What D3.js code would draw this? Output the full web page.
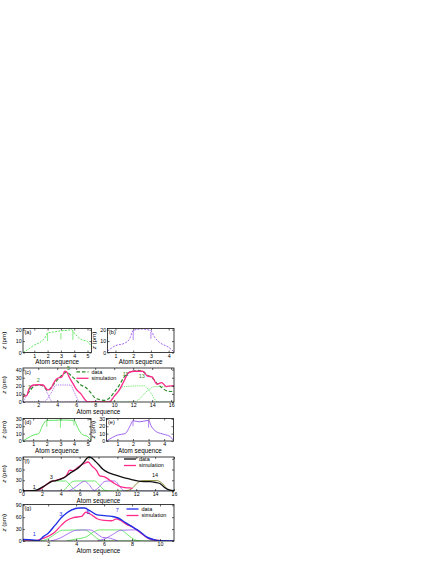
<!DOCTYPE html>
<html>
<head>
<meta charset="utf-8">
<script src="https://cdn.jsdelivr.net/npm/d3@7"></script>
<style>
  body { margin: 0; background: #fff; }
  text { font-family: "Liberation Sans", Arial, sans-serif; }
</style>
</head>
<body>
<script>
// ---- data ----
const aLine = [[0.15,0],[0.5,2.5],[1,6.5],[1.5,9.5],[1.8,13],[2,17],[2.5,18],[3,19],[3.5,19.4],[3.8,20],[4,17],[4.3,13.4],[4.5,11.6],[5,9.5],[5.3,5]];
const aMarks = [[2,10,17],[3,11.5,17],[3.9,11,19.4]];
const bLine = [[0.55,1.3],[1,6],[1.5,8],[1.8,12],[2,19.4],[2.5,20.6],[3,19],[3.2,13.5],[3.5,8.7],[4,4.5],[4.3,0.6]];
const bMarks = [[2,11,19],[3,12,18]];

const cData = [[0.4,6],[1,12],[1.5,19],[2,21],[2.5,20],[3,14],[3.5,20],[4,27],[4.5,33],[5,37],[5.5,32],[6,27],[6.5,21],[7,18],[7.5,12],[8,5],[8.5,3],[9,2],[9.5,5],[10,12],[10.5,20],[11,30],[11.5,36],[12,38],[12.5,39],[13,38],[13.5,33],[14,30],[14.5,23],[15,18],[15.5,14],[16,13],[16.3,13]];
const cSim = [[0.4,7],[0.8,8],[1,15],[1.5,21],[2,21.5],[2.5,21],[3,15],[3.3,16],[3.7,25],[4,29],[4.5,31],[4.8,38],[5,37],[5.3,30],[5.7,22],[6,16],[6.5,10],[7,2],[7.2,0],[9.5,0],[10,7],[10.5,14],[11,25],[11.5,36],[12,38],[12.5,38],[13,38],[13.5,32],[14,31],[14.5,22],[15,24],[15.5,19],[16,20],[16.3,20]];
const cPurple = [
  [[0.4,0],[0.9,10],[1.3,20],[2.5,21],[3.0,10],[3.5,0],[9,0]],
  [[0.4,0],[2.6,0],[3.3,10],[3.9,21],[5.4,21],[5.8,12],[6.4,0],[9,0]]
];
const cGreen = [
  [[8,0],[9.3,0],[10.2,10],[11,19],[13.2,20],[13.8,12],[14.6,0],[16.3,0]],
  [[8,0],[12.2,0],[13,8],[13.6,15],[14.3,19],[15.2,19],[16.3,19]]
];
const cLabels = [[1.1,16,"1"],[2,25,"2"],[5.2,39,"5"],[11.2,32,"11"],[12.9,30,"13"]];

const dLine = [[0.25,0],[0.6,4],[1,8],[1.4,10],[1.7,21.5],[2,28],[2.5,28],[3,28.5],[3.5,28.3],[4,28],[4.3,17],[4.6,9],[5,6],[5.25,1.3]];
const dMarks = [[2,19,28],[3,18,28.5],[4,21,28]];
const eLine = [[0.3,0],[0.7,5],[1,8],[1.5,10],[1.8,20],[2,27.5],[2.4,26],[3,28],[3.15,21],[3.5,12.6],[4,9],[4.4,5.8],[4.6,1]];
const eMarks = [[2,20,27.5],[3,18,28]];

const fData = [[0,0],[1,1],[1.5,3],[2,10],[2.5,18],[3,26],[3.5,29],[4,33],[4.5,40],[5,50],[5.5,58],[6,68],[6.5,82],[6.8,92],[7,95],[7.3,92],[7.7,82],[8,74],[8.5,60],[9,52],[9.5,47],[10,43],[10.5,39],[11,35],[11.5,32],[12,29],[12.5,27],[13,26],[13.5,26],[14,24],[14.5,21],[15,10],[15.5,3],[16,1]];
const fSim = [[0,0],[1,0.5],[1.5,2],[2,8],[2.5,18],[3,27],[3.5,30],[4,34],[4.6,43],[4.95,58],[5.3,57],[6,70],[6.5,77],[6.9,81],[7.3,70],[7.8,57],[8.1,43],[8.7,39],[9.2,30],[9.7,21],[10.3,12],[11,9],[11.3,9],[11.6,7]];
const fGreen = [
  [[0,0],[1,1],[1.8,5],[2.5,18],[3,28],[4.5,28],[5,16],[5.5,3],[6,0],[16,0]],
  [[0,0],[4.2,0],[4.7,12],[5.2,26],[5.6,28],[7.6,28],[8.1,16],[8.6,3],[9,0]]
];
const fPurple = [
  [[4.8,0],[5.4,8],[6,20],[6.5,27],[7,18],[7.4,4],[7.8,0]],
  [[0,0],[7.4,0],[8.1,12],[8.6,26],[9,28],[9.7,28],[10.2,15],[10.6,2],[11,0],[16,0]]
];
const fOlive = [[10.8,0],[11.5,6],[12.2,24],[12.7,29],[14.2,29],[14.8,20],[15.3,5],[15.8,0],[16,0]];
const fLabels = [[1.2,6,"1"],[3,33,"3"],[7,86,"7"],[14,40,"14"]];

const gData = [[0.2,4],[0.9,2.5],[1.3,0.8],[1.65,11],[2,19.5],[2.5,40],[2.95,59],[3.3,70],[3.65,78],[4.25,83],[4.6,83],[5,76],[5.5,66],[6,64],[6.55,62],[7,58],[7.5,47],[8,36],[8.55,24],[9,11],[9.5,4],[10,0.5],[11,0]];
const gSim = [[0.2,0],[1,0],[1.65,7],[2.4,20],[2.95,40],[3.3,51],[3.8,59],[4.4,62],[4.7,73],[5.1,66],[5.5,56],[6,52],[6.55,51],[6.9,56],[7.1,53],[7.6,42],[8.1,34],[8.55,22],[9.1,8],[9.6,2.5],[10.2,0]];
const gGreen = [
  [[0.2,0],[1.3,0],[2,6],[2.6,20],[3,27],[4.6,28],[5.1,18],[5.6,4],[6,0],[11,0]],
  [[3.3,0],[4,5],[4.7,10],[5.3,24],[5.7,28],[7.2,28],[7.7,15],[8.2,3],[8.6,0]]
];
const gPurple = [
  [[2.2,0],[2.9,8],[3.5,20],[4,27],[5,28],[5.5,18],[5.9,9],[6.3,8],[6.6,5],[7,0]],
  [[5.5,0],[6.2,8],[6.6,16],[7.2,27],[8.3,28],[8.7,20],[9.2,5],[9.6,0],[11,0]]
];
const gLabels = [[1,13,"1"],[2.9,64,"3"],[4.85,68,"5"],[6.95,73,"7"]];

// colours
const LG = "#5fe65f", DG = "#2e8b2e", PU = "#a066f0", PK = "#ff2a8a", BL = "#1f2fe6", OL = "#8a8a3a";

const svg = d3.select("body").append("svg").attr("width", 436).attr("height", 564);
let clipN = 0;
const fmt = d3.format("d");

function panel(box, xd, yd, xt, yt, tag, ylx) {
  const x = d3.scaleLinear(xd, [box[0], box[1]]);
  const y = d3.scaleLinear(yd, [box[3], box[2]]);
  const g = svg.append("g");
  const id = "clip" + (clipN++);
  g.append("clipPath").attr("id", id).append("rect")
    .attr("x", box[0]).attr("y", box[2]).attr("width", box[1]-box[0]).attr("height", box[3]-box[2]);
  const plot = g.append("g").attr("clip-path", `url(#${id})`);

  const style = s => s.call(a => a.select(".domain").remove())
    .attr("font-size", 5.3).attr("font-family", "Liberation Sans, Arial, sans-serif")
    .call(a => a.selectAll("line").attr("stroke-width", 0.6));
  g.append("g").attr("transform", `translate(0,${box[3]})`)
    .call(d3.axisBottom(x).tickValues(xt).tickFormat(fmt).tickSize(-2).tickPadding(1.3)).call(style);
  g.append("g").attr("transform", `translate(0,${box[2]})`)
    .call(d3.axisTop(x).tickValues(xt).tickSize(-2).tickFormat("")).call(style);
  g.append("g").attr("transform", `translate(${box[0]},0)`)
    .call(d3.axisLeft(y).tickValues(yt).tickFormat(fmt).tickSize(-2).tickPadding(1.3)).call(style);
  g.append("g").attr("transform", `translate(${box[1]},0)`)
    .call(d3.axisRight(y).tickValues(yt).tickSize(-2).tickFormat("")).call(style);

  g.append("rect").attr("x", box[0]).attr("y", box[2]).attr("width", box[1]-box[0]).attr("height", box[3]-box[2])
    .attr("fill", "none").attr("stroke", "#111").attr("stroke-width", 0.8);

  g.append("text").attr("x", box[0]+1.5).attr("y", box[2]+5.5).attr("font-size", 5.5).text(tag);
  g.append("text").attr("x", (box[0]+box[1])/2).attr("y", box[3]+11.5)
    .attr("text-anchor", "middle").attr("font-size", 6.3).text("Atom sequence");
  const yl = g.append("text").attr("transform", `translate(${box[0]-ylx},${(box[2]+box[3])/2}) rotate(-90)`)
    .attr("text-anchor", "middle").attr("font-size", 6.2);
  yl.append("tspan").attr("font-style", "italic").text("z");
  yl.append("tspan").text(" (pm)");
  return {g, plot, x, y};
}

function draw(p, data, color, width, dash) {
  const line = d3.line().x(d => p.x(d[0])).y(d => p.y(d[1])).curve(d3.curveMonotoneX);
  p.plot.append("path").datum(data).attr("fill", "none").attr("stroke", color)
    .attr("stroke-width", width).attr("stroke-dasharray", dash || null).attr("d", line);
}
function marks(p, data, color) {
  p.plot.selectAll(null).data(data).join("line")
    .attr("x1", d => p.x(d[0])).attr("x2", d => p.x(d[0]))
    .attr("y1", d => p.y(d[1])).attr("y2", d => p.y(d[2]))
    .attr("stroke", color).attr("stroke-width", 0.8);
}
function labels(p, data, color) {
  p.g.selectAll(null).data(data).join("text")
    .attr("x", d => p.x(d[0])).attr("y", d => p.y(d[1]))
    .attr("text-anchor", "middle").attr("font-size", 5.5).attr("fill", color).text(d => d[2]);
}
function legend(p, x0, y0, items) {
  items.forEach((it, i) => {
    const yy = y0 + i*6.5;
    p.g.append("line").attr("x1", x0).attr("x2", x0+12).attr("y1", yy).attr("y2", yy)
      .attr("stroke", it[1]).attr("stroke-width", 1.3).attr("stroke-dasharray", it[2] || null);
    p.g.append("text").attr("x", x0+15).attr("y", yy+1.8).attr("font-size", 5.5).text(it[0]);
  });
}

// (a)
const pa = panel([23, 91.5, 328.5, 352.5], [0.15, 5.3], [0, 21], [1,2,3,4,5], [0,10,20], "(a)", 17);
draw(pa, aLine, LG, 1, "2,1.3");
marks(pa, aMarks, LG);
// (b)
const pb = panel([107.5, 174, 328.5, 352.5], [0.55, 4.3], [0, 21], [1,2,3,4], [0,10,20], "(b)", 12);
draw(pb, bLine, PU, 1, "2,1.3");
marks(pb, bMarks, PU);
// (c)
const pc = panel([23, 174, 368, 402], [0.4, 16.3], [0, 42], [2,4,6,8,10,12,14,16], [0,10,20,30,40], "(c)", 17);
cPurple.forEach(s => draw(pc, s, PU, 0.9, "1.2,1"));
cGreen.forEach(s => draw(pc, s, LG, 0.9, "1.2,1"));
draw(pc, cData, DG, 1.2, "3.5,2");
draw(pc, cSim, PK, 1.3);
labels(pc, cLabels, DG);
legend(pc, 76.5, 371.8, [["data", DG, "3.5,2"], ["simulation", PK]]);
// (d)
const pd = panel([23, 91, 418.5, 441], [0.25, 5.25], [0, 30.5], [1,2,3,4,5], [0,10,20,30], "(d)", 17);
draw(pd, dLine, LG, 1);
marks(pd, dMarks, LG);
// (e)
const pe = panel([106.5, 173.5, 418.5, 441], [0.3, 4.6], [0, 30.5], [1,2,3,4], [0,10,20,30], "(e)", 12);
draw(pe, eLine, PU, 1);
marks(pe, eMarks, PU);
// (f)
const pf = panel([23, 174, 457, 491], [0, 16], [0, 95], [0,2,4,6,8,10,12,14,16], [0,30,60,90], "(f)", 17);
fGreen.forEach(s => draw(pf, s, LG, 0.9));
fPurple.forEach(s => draw(pf, s, PU, 0.9));
draw(pf, fOlive, OL, 1);
draw(pf, fSim, PK, 1.3);
draw(pf, fData, "#111", 1.3);
labels(pf, fLabels, "#111");
legend(pf, 124, 459, [["data", "#111"], ["simulation", PK]]);
// (g)
const pg = panel([23, 174, 504.5, 541], [0.2, 11], [0, 92], [2,4,6,8,10], [0,30,60,90], "(g)", 17);
gGreen.forEach(s => draw(pg, s, LG, 0.9));
gPurple.forEach(s => draw(pg, s, PU, 0.9));
draw(pg, gSim, PK, 1.3);
draw(pg, gData, BL, 1.4);
labels(pg, gLabels, BL);
legend(pg, 126.5, 509, [["data", BL], ["simulation", PK]]);
</script>
</body>
</html>
